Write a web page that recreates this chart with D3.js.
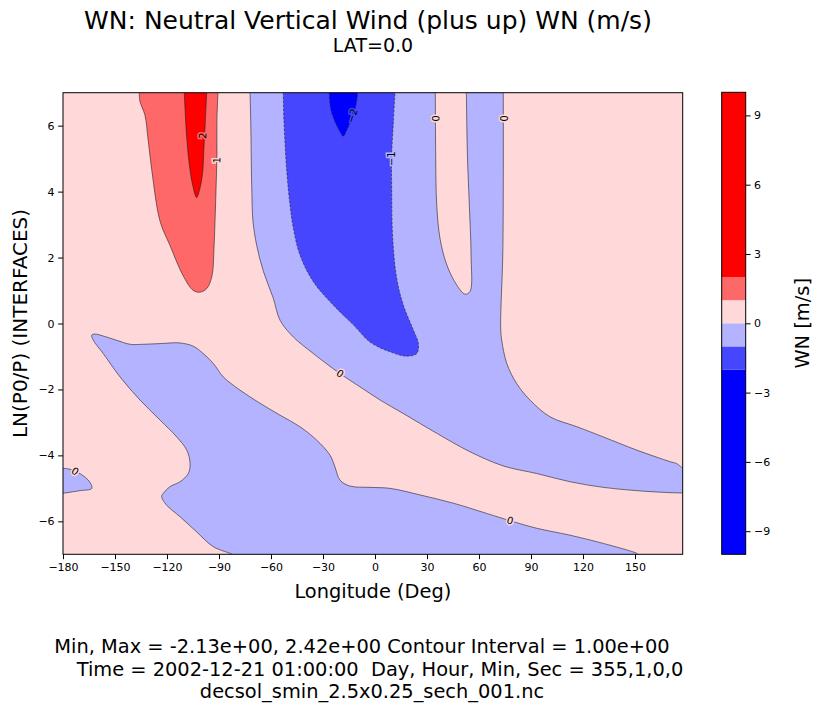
<!DOCTYPE html>
<html>
<head>
<meta charset="utf-8">
<script src="https://cdn.jsdelivr.net/npm/d3@7"></script>
<style>
body { margin: 0; background: #fff; }
text { font-family: "DejaVu Sans", sans-serif; fill: #000; }
</style>
</head>
<body>
<script>
// axis ranges and ticks
const lonRange = [-180, 177.5];
const levRange = [-7, 7];
const xTicks = [-180, -150, -120, -90, -60, -30, 0, 30, 60, 90, 120, 150];
const yTicks = [-6, -4, -2, 0, 2, 4, 6];

// contour levels and the colour of each band between them
const levels = [-10, -2, -1, 0, 1, 2, 10];
const cbTicks = [-9, -6, -3, 0, 3, 6, 9];
const bandColors = ["#0000ff", "#4646ff", "#b3b3ff", "#ffd9d9", "#ff6868", "#ff0000"];

// contour lines, [longitude, ln(p0/p)]
const posOne = [[-136.0, 7], [-135.6, 6.74], [-132.7, 6.31], [-131.0, 5.62], [-128.7, 4.62], [-124.0, 3.10],
  [-118.3, 2.37], [-110.8, 1.46], [-105.0, 1.01], [-101.0, 0.95], [-96.9, 1.07], [-94.0, 1.46], [-92.9, 2.28],
  [-92.3, 3.10], [-91.7, 4.10], [-91.2, 5.10], [-91.2, 6.13], [-90.6, 7]];
const posTwo = [[-110.0, 7], [-109.6, 6.52], [-108.6, 5.62], [-107.1, 4.81], [-105.2, 4.20], [-102.9, 3.82],
  [-101.0, 4.10], [-99.4, 4.61], [-98.7, 5.31], [-97.9, 6.12], [-97.1, 7]];
const zeroA1 = [[-72.1, 7], [-71.7, 6.13], [-71.1, 4.10], [-70.4, 3.10], [-68.3, 2.38], [-64.4, 1.58],
  [-58.7, 0.77], [-54.8, 0.10], [-47.1, -0.41], [-35.6, -0.91], [-20.2, -1.52], [-8.7, -1.92], [2.9, -2.32],
  [16.3, -2.73], [35.6, -3.33], [54.8, -3.89], [74.0, -4.32], [93.3, -4.55], [112.5, -4.80], [131.7, -4.97],
  [151.0, -5.07], [170.2, -5.13], [177.5, -5.14]];
const zeroA2 = [[74.0, 7], [74.0, 4.10], [73.7, 2.08], [72.5, -0.14], [73.1, -0.51], [76.0, -1.21], [81.7, -1.82],
  [89.4, -2.32], [101.0, -2.83], [116.4, -3.13], [131.7, -3.44], [151.0, -3.84], [170.2, -4.19], [174.0, -4.25],
  [177.5, -4.39]];
const zeroTongue = [[34.8, 7], [35.0, 5.11], [35.6, 3.59], [37.5, 2.58], [41.4, 1.78], [47.1, 1.17], [51.9, 0.89],
  [54.8, 0.97], [55.4, 2.08], [54.4, 3.59], [53.3, 5.11], [52.7, 7]];
const zeroB = [[-82.5, -7], [-83.7, -6.97], [-93.3, -6.77], [-102.9, -6.32], [-112.5, -5.86], [-120.2, -5.51],
  [-123.1, -5.25], [-122.1, -5.15], [-118.3, -4.95], [-112.5, -4.80], [-107.7, -4.55], [-106.7, -4.24],
  [-108.6, -3.84], [-114.4, -3.44], [-124.0, -2.93], [-135.6, -2.32], [-147.1, -1.62], [-156.8, -0.91],
  [-162.5, -0.51], [-163.4, -0.35], [-161.5, -0.32], [-156.8, -0.38], [-149.0, -0.51], [-141.3, -0.63],
  [-133.7, -0.63], [-124.0, -0.61], [-112.5, -0.59], [-104.8, -0.69], [-99.1, -0.91], [-93.3, -1.21],
  [-87.5, -1.62], [-77.9, -2.02], [-66.3, -2.42], [-54.8, -2.78], [-43.3, -3.13], [-33.6, -3.54], [-26.0, -3.99],
  [-23.1, -4.35], [-20.2, -4.75], [-14.4, -4.93], [-2.9, -4.97], [8.7, -5.00], [26.0, -5.20], [45.2, -5.45],
  [64.4, -5.76], [77.9, -5.98], [93.3, -6.21], [112.5, -6.42], [131.7, -6.67], [151.0, -6.97], [151.7, -7]];
const zeroC = [[-180, -4.39], [-174.1, -4.45], [-165.4, -4.75], [-163.4, -5.0], [-170.2, -5.07], [-180, -5.15]];
const negOne = [[-52.9, 7], [-52.5, 6.13], [-50.9, 4.62], [-49.0, 3.58], [-47.1, 2.89], [-43.3, 2.08], [-35.6, 1.27],
  [-24.1, 0.56], [-12.5, -0.04], [-2.9, -0.56], [8.7, -0.86], [18.3, -0.99], [24.1, -0.91], [25.0, -0.61],
  [22.1, -0.20], [16.3, 0.56], [12.5, 1.37], [10.2, 2.58], [9.6, 4.10], [9.6, 5.11], [10.6, 6.12], [11.5, 7]];
const negTwo = [[-26.4, 7], [-25.6, 6.52], [-23.1, 6.12], [-20.2, 5.82], [-18.3, 5.68], [-16.3, 5.87], [-13.4, 6.22],
  [-11.0, 6.62], [-10.0, 7]];

// inline contour labels: text, position, the line they sit on
const contourLabels = [
  {text: "1", lon: -91.2, lev: 4.95, line: posOne, band: 3},
  {text: "2", lon: -99.4, lev: 5.70, line: posTwo, band: 4},
  {text: "−1", lon: 9.6, lev: 5.0, line: negOne, band: 2},
  {text: "−2", lon: -13.0, lev: 6.30, line: negTwo, band: 1},
  {text: "0", lon: 34.9, lev: 6.22, line: zeroTongue, band: 3},
  {text: "0", lon: 74.0, lev: 6.22, line: zeroA2, band: 3},
  {text: "0", lon: -20.2, lev: -1.52, line: zeroA1, band: 3},
  {text: "0", lon: -173.1, lev: -4.48, line: zeroC, band: 3},
  {text: "0", lon: 77.9, lev: -5.98, line: zeroB, band: 3}
];

const width = 822;
const height = 713;
const plot = {left: 63, right: 682.7, top: 92.7, bottom: 554.3};
const cb = {left: 721.7, right: 745.7, top: 92.3, bottom: 554.3};

const x = d3.scaleLinear().domain(lonRange).range([plot.left, plot.right]);
const y = d3.scaleLinear().domain(levRange).range([plot.bottom, plot.top]);
const cbScale = d3.scaleLinear().domain([levels[0], levels[levels.length - 1]]).range([cb.bottom, cb.top]);

const line = d3.line()
    .x(d => x(d[0]))
    .y(d => y(d[1]))
    .curve(d3.curveCatmullRom);

// join several open pieces into one closed outline
function outline(parts) {
    return parts.map((p, i) => {
        const s = line(p);
        return i ? "L" + s.slice(1) : s;
    }).join("") + "Z";
}

const rev = a => a.slice().reverse();

// fill order: later bands painted over earlier ones
const regions = [
    {band: 4, parts: [posOne]},
    {band: 5, parts: [posTwo]},
    {band: 2, parts: [zeroA1, rev(zeroA2), rev(zeroTongue)]},
    {band: 2, parts: [zeroB]},
    {band: 2, parts: [zeroC]},
    {band: 1, parts: [negOne]},
    {band: 0, parts: [negTwo]}
];

const contourLines = [
    {pts: posOne, level: 1}, {pts: posTwo, level: 2},
    {pts: zeroA1, level: 0}, {pts: zeroA2, level: 0}, {pts: zeroTongue, level: 0},
    {pts: zeroB, level: 0}, {pts: zeroC, level: 0},
    {pts: negOne, level: -1}, {pts: negTwo, level: -2}
];

let svg = d3.select("body")
    .append("svg")
    .attr("width", width)
    .attr("height", height);

svg.append("clipPath")
    .attr("id", "plotclip")
    .append("rect")
    .attr("x", plot.left)
    .attr("y", plot.top)
    .attr("width", plot.right - plot.left)
    .attr("height", plot.bottom - plot.top);

let field = svg.append("g").attr("clip-path", "url(#plotclip)");

// background band (0 to 1)
field.append("rect")
    .attr("x", plot.left)
    .attr("y", plot.top)
    .attr("width", plot.right - plot.left)
    .attr("height", plot.bottom - plot.top)
    .attr("fill", bandColors[3]);

field.selectAll("path.band")
    .data(regions)
    .enter()
    .append("path")
    .attr("class", "band")
    .attr("d", d => outline(d.parts))
    .attr("fill", d => bandColors[d.band]);

field.selectAll("path.cline")
    .data(contourLines)
    .enter()
    .append("path")
    .attr("class", "cline")
    .attr("d", d => line(d.pts))
    .attr("fill", "none")
    .attr("stroke", "#222")
    .attr("stroke-width", 0.6)
    .attr("stroke-dasharray", d => d.level < 0 ? "2.5,1.5" : null);

// label angle follows the nearest segment of its line
function labelAngle(d) {
    const px = x(d.lon), py = y(d.lev);
    let best = Infinity, ang = 0;
    for (let i = 0; i < d.line.length - 1; i++) {
        const x0 = x(d.line[i][0]), y0 = y(d.line[i][1]);
        const x1 = x(d.line[i + 1][0]), y1 = y(d.line[i + 1][1]);
        const mx = (x0 + x1) / 2, my = (y0 + y1) / 2;
        const dist = (mx - px) ** 2 + (my - py) ** 2;
        if (dist < best) {
            best = dist;
            ang = Math.atan2(y1 - y0, x1 - x0) * 180 / Math.PI;
        }
    }
    if (ang > 90) ang -= 180;
    if (ang < -90) ang += 180;
    return ang;
}

field.selectAll("text.clabel")
    .data(contourLabels)
    .enter()
    .append("text")
    .attr("class", "clabel")
    .attr("transform", d => "translate(" + x(d.lon) + "," + y(d.lev) + ") rotate(" + labelAngle(d) + ")")
    .attr("text-anchor", "middle")
    .attr("dominant-baseline", "central")
    .style("font-size", "10px")
    .style("paint-order", "stroke")
    .style("stroke", d => bandColors[d.band])
    .style("stroke-width", "3px")
    .text(d => d.text);

// frame
svg.append("rect")
    .attr("x", plot.left)
    .attr("y", plot.top)
    .attr("width", plot.right - plot.left)
    .attr("height", plot.bottom - plot.top)
    .attr("fill", "none")
    .attr("stroke", "#000")
    .attr("stroke-width", 1);

// x axis
let xAxis = svg.append("g")
    .attr("transform", "translate(0," + plot.bottom + ")")
    .call(d3.axisBottom(x).tickValues(xTicks).tickSize(4.9).tickPadding(3.5).tickFormat(d3.format("d")));
xAxis.select(".domain").remove();

// y axis
let yAxis = svg.append("g")
    .attr("transform", "translate(" + plot.left + ",0)")
    .call(d3.axisLeft(y).tickValues(yTicks).tickSize(4.9).tickPadding(3.5).tickFormat(d3.format("d")));
yAxis.select(".domain").remove();

svg.selectAll(".tick text")
    .style("font-family", "DejaVu Sans")
    .style("font-size", "11px");
svg.selectAll(".tick line").attr("stroke", "#000");

// colorbar
let cbar = svg.append("g");
cbar.selectAll("rect")
    .data(bandColors)
    .enter()
    .append("rect")
    .attr("x", cb.left)
    .attr("width", cb.right - cb.left)
    .attr("y", (c, i) => cbScale(levels[i + 1]))
    .attr("height", (c, i) => cbScale(levels[i]) - cbScale(levels[i + 1]))
    .attr("fill", c => c);

cbar.append("rect")
    .attr("x", cb.left)
    .attr("y", cb.top)
    .attr("width", cb.right - cb.left)
    .attr("height", cb.bottom - cb.top)
    .attr("fill", "none")
    .attr("stroke", "#000")
    .attr("stroke-width", 1);

let cbAxis = svg.append("g")
    .attr("transform", "translate(" + cb.right + ",0)")
    .call(d3.axisRight(cbScale).tickValues(cbTicks).tickSize(4.9).tickPadding(3.5).tickFormat(d3.format("d")));
cbAxis.select(".domain").remove();
cbAxis.selectAll("text").style("font-family", "DejaVu Sans").style("font-size", "11px");
cbAxis.selectAll("line").attr("stroke", "#000");

svg.append("text")
    .attr("transform", "translate(802," + ((cb.top + cb.bottom) / 2) + ") rotate(-90)")
    .attr("text-anchor", "middle")
    .attr("dominant-baseline", "central")
    .style("font-size", "19.4px")
    .text("WN [m/s]");

// titles
svg.append("text")
    .attr("x", 368)
    .attr("y", 29)
    .attr("text-anchor", "middle")
    .style("font-size", "25px")
    .text("WN: Neutral Vertical Wind (plus up) WN (m/s)");

svg.append("text")
    .attr("x", 373)
    .attr("y", 52)
    .attr("text-anchor", "middle")
    .style("font-size", "19px")
    .text("LAT=0.0");

// axis labels
svg.append("text")
    .attr("x", (plot.left + plot.right) / 2)
    .attr("y", 598)
    .attr("text-anchor", "middle")
    .style("font-size", "19.4px")
    .text("Longitude (Deg)");

svg.append("text")
    .attr("transform", "translate(20," + ((plot.top + plot.bottom) / 2) + ") rotate(-90)")
    .attr("text-anchor", "middle")
    .attr("dominant-baseline", "central")
    .style("font-size", "20px")
    .text("LN(P0/P) (INTERFACES)");

// footer
const footer = [
    {t: "Min, Max = -2.13e+00, 2.42e+00 Contour Interval = 1.00e+00", x: 362, y: 653},
    {t: "Time = 2002-12-21 01:00:00  Day, Hour, Min, Sec = 355,1,0,0", x: 380, y: 676},
    {t: "decsol_smin_2.5x0.25_sech_001.nc", x: 372, y: 698}
];
svg.selectAll("text.footer")
    .data(footer)
    .enter()
    .append("text")
    .attr("class", "footer")
    .attr("x", d => d.x)
    .attr("y", d => d.y)
    .attr("text-anchor", "middle")
    .style("font-size", "19.4px")
    .style("white-space", "pre")
    .text(d => d.t);
</script>
</body>
</html>
